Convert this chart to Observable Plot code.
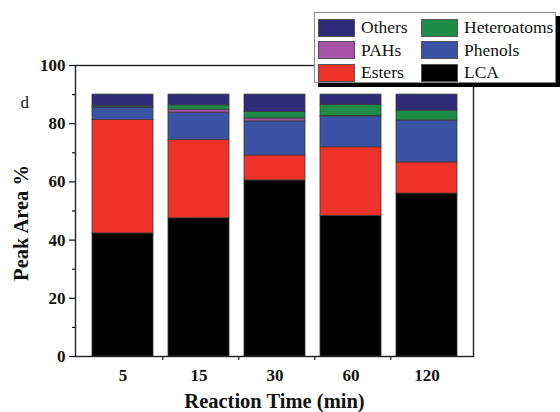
<!DOCTYPE html>
<html>
<head>
<meta charset="utf-8">
<script src="https://cdn.jsdelivr.net/npm/d3@7"></script>
<script src="https://cdn.jsdelivr.net/npm/@observablehq/plot@0.6"></script>
<style>
  html, body { margin: 0; padding: 0; background: #fff; }
  #wrap { position: relative; width: 560px; height: 412px; font-family: "Liberation Serif", "Times New Roman", serif; }
  #legend { position: absolute; left: 314px; top: 12px; width: 240px; height: 69px; background: #fff;
            border: 1px solid #8a8a8a; box-shadow: 4px 4px 0 #000; }
  .item { position: absolute; display: flex; align-items: center; font-size: 17.5px; color: #111; }
  .sw { width: 37px; height: 18px; border: 1px solid #555; box-sizing: border-box; margin-right: 6px; }
</style>
</head>
<body>
<div id="wrap"><div id="chart"></div><div id="legend"></div></div>
<script>
const times = ["5", "15", "30", "60", "120"];
const types = ["LCA", "Esters", "Phenols", "PAHs", "Heteroatoms", "Others"];
const LCA         = [42.3, 47.5, 60.5, 48.3, 56.0];
const Esters      = [39.0, 26.9,  8.6, 23.6, 10.7];
const Phenols     = [ 4.2,  9.4, 11.7, 10.6, 14.4];
const PAHs        = [ 0.1,  1.0,  1.0,  0.2,  0.0];
const Heteroatoms = [ 0.4,  1.5,  2.2,  3.8,  3.4];
const Others      = [ 4.0,  3.7,  6.0,  3.5,  5.5];
const yTicks = [0, 20, 40, 60, 80, 100];
const yMinor = [10, 30, 50, 70, 90];
const colors = {LCA: "#000000", Esters: "#ee3129", Phenols: "#3a53a4", PAHs: "#a652a6", Heteroatoms: "#1c8c47", Others: "#2e2b78"};
const legendOrder = [["Others", "Heteroatoms"], ["PAHs", "Phenols"], ["Esters", "LCA"]];

const series = {LCA, Esters, Phenols, PAHs, Heteroatoms, Others};
const data = [];
times.forEach((t, i) => types.forEach(k => data.push({time: t, type: k, value: series[k][i]})));

const chart = Plot.plot({
  width: 560, height: 412,
  marginLeft: 75, marginRight: 87, marginTop: 65, marginBottom: 56,
  style: {fontFamily: "'Liberation Serif', 'Times New Roman', serif", fontSize: "17px", fontWeight: "bold", color: "#111", background: "transparent"},
  x: {domain: times, padding: 0.2, label: null},
  y: {domain: [0, 100], label: null},
  color: {domain: types, range: types.map(k => colors[k])},
  marks: [
    Plot.barY(data, {x: "time", y: "value", fill: "type", order: types, stroke: "#3a3a3a", strokeWidth: 0.8}),
    Plot.frame({stroke: "#222", strokeWidth: 1.4}),
    Plot.axisY({ticks: yTicks, tickSize: 6, tickPadding: 4, label: null, strokeWidth: 1.2}),
    Plot.axisY({ticks: yMinor, tickSize: 3, tickFormat: () => "", label: null, strokeWidth: 1.2}),
    Plot.axisX({tickSize: 0, tickPadding: 12, label: null}),
    Plot.ruleX(times.slice(0, -1), {x: d => d, dx: 39.8, insetTop: 291, insetBottom: -4, stroke: "#222", strokeWidth: 1.2}),
    Plot.text(["Peak Area %"], {frameAnchor: "left", textAnchor: "middle", dx: -54, dy: 12, rotate: -90, fontSize: 20.5, fontWeight: "bold", fill: "#111"}),
    Plot.text(["Reaction Time (min)"], {frameAnchor: "bottom", lineAnchor: "middle", dy: 45, fontSize: 20.5, fontWeight: "bold", fill: "#111"}),
    Plot.text(["d"], {frameAnchor: "top-left", dx: -55, dy: 30, fontSize: 17, fontWeight: "normal", fill: "#111"})
  ]
});
document.getElementById("chart").appendChild(chart);

const legend = document.getElementById("legend");
legendOrder.forEach((row, r) => row.forEach((k, c) => {
  const it = document.createElement("div");
  it.className = "item";
  it.style.left = (c === 0 ? 3 : 106) + "px";
  it.style.top = (4 + r * 22.5) + "px";
  const sw = document.createElement("div");
  sw.className = "sw";
  sw.style.background = colors[k];
  const tx = document.createElement("span");
  tx.textContent = k;
  it.appendChild(sw); it.appendChild(tx);
  legend.appendChild(it);
}));
</script>
</body>
</html>
